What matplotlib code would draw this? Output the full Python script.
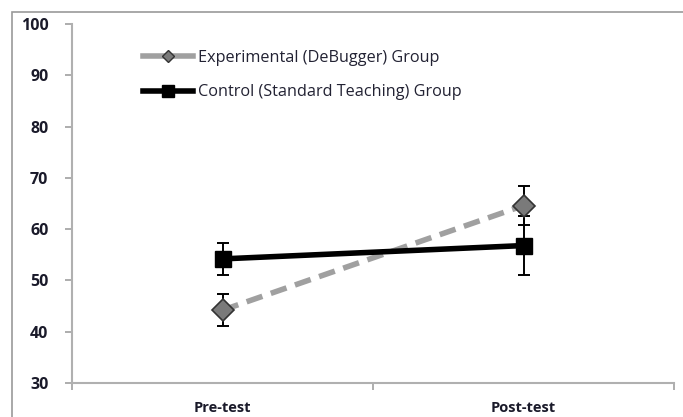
import matplotlib
matplotlib.use("Agg")
import matplotlib.pyplot as plt
from matplotlib.patches import Rectangle
from matplotlib.lines import Line2D

categories = ["Pre-test", "Post-test"]
exp_label = "Experimental (DeBugger) Group"
ctl_label = "Control (Standard Teaching) Group"
exp_values = [44.2, 64.6]
exp_err = [3.1, 3.8]
ctl_values = [54.2, 56.8]
ctl_err = [3.1, 5.8]
y_ticks = [30, 40, 50, 60, 70, 80, 90, 100]

W, H = 683, 417
fig = plt.figure(figsize=(W / 100, H / 100), dpi=100)
plt.rcParams['font.family'] = ['Open Sans', 'DejaVu Sans']

# outer chart frame
fig.patches.append(Rectangle((12 / W, -0.1), 2.0, (H - 12) / H + 0.1,
                             transform=fig.transFigure, fill=False,
                             edgecolor="#9a9a9a", linewidth=1.2))

ax = fig.add_axes([72 / W, (H - 383) / H, (674 - 72) / W, (383 - 24) / H])
x = [0, 1]

# error bars
ax.errorbar(x, exp_values, yerr=exp_err, fmt="none", ecolor="black",
            elinewidth=1.4, capsize=4.5, capthick=1.4, zorder=2)
ax.errorbar(x, ctl_values, yerr=ctl_err, fmt="none", ecolor="black",
            elinewidth=1.4, capsize=4.5, capthick=1.4, zorder=2)

# lines
ax.plot(x, exp_values, color="#a0a0a0", linewidth=4, linestyle=(0, (3, 1.6)),
        zorder=3)
ax.plot(x, exp_values, linestyle="none", marker="D", markersize=11,
        markerfacecolor="#7a7a7a", markeredgecolor="#333333",
        markeredgewidth=1.2, zorder=5)
ax.plot(x, ctl_values, color="black", linewidth=4, zorder=4)
ax.plot(x, ctl_values, linestyle="none", marker="s", markersize=12,
        markerfacecolor="black", markeredgecolor="black", zorder=5)

ax.set_xlim(-0.5, 1.5)
ax.set_ylim(30, 100)
ax.set_yticks(y_ticks)
ax.set_xticks(x)
ax.set_xticklabels(categories)
ax.set_xticks([-0.5, 0.5, 1.5], minor=True)
ax.tick_params(axis="x", which="major", length=0, pad=13)
ax.tick_params(axis="x", which="minor", length=5, color="#a0a0a0", width=1.2)
ax.tick_params(axis="y", length=5, color="#a0a0a0", width=1.2, pad=12)
for lab in ax.get_xticklabels():
    lab.set_fontsize(10.5)
    lab.set_fontweight("bold")
    lab.set_color("#1a1a2a")
for lab in ax.get_yticklabels():
    lab.set_fontsize(11.5)
    lab.set_fontweight("bold")
    lab.set_color("#1a1a2a")

for s in ["top", "right"]:
    ax.spines[s].set_visible(False)
for s in ["left", "bottom"]:
    ax.spines[s].set_color("#b0b0b0")
    ax.spines[s].set_linewidth(1.5)

handles = [
    Line2D([], [], color="#a0a0a0", linewidth=4, marker="D", markersize=6,
           markerfacecolor="#7a7a7a", markeredgecolor="#333333"),
    Line2D([], [], color="black", linewidth=4, marker="s", markersize=9,
           markerfacecolor="black"),
]
ax.legend(handles, [exp_label, ctl_label], loc="upper left",
          bbox_to_anchor=(128 / W, (H - 35) / H), bbox_transform=fig.transFigure,
          frameon=False, fontsize=11.7, handlelength=3.1, handletextpad=0.3,
          labelspacing=1.15, labelcolor="#222233")

fig.savefig("out.png", dpi=100)
